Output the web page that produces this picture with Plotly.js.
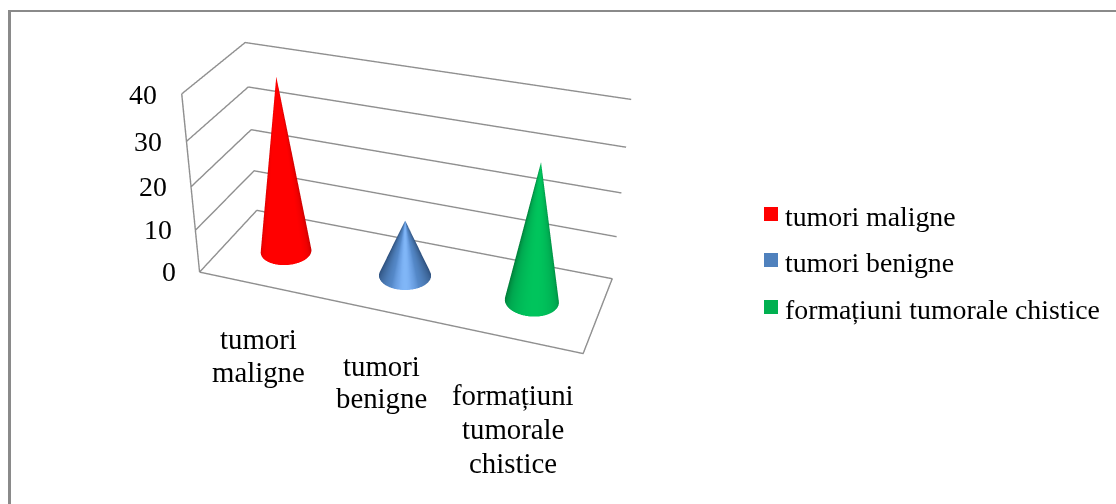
<!DOCTYPE html>
<html><head><meta charset="utf-8">
<script src="https://cdn.plot.ly/plotly-3.0.1.min.js"></script>
<style>html,body{margin:0;padding:0;background:#fff;width:1116px;height:504px;overflow:hidden}
#chart{position:absolute;left:0;top:-290px;width:1116px;height:1004px}</style>
</head><body><div id="chart"></div>
<script>
const categories = ["tumori maligne", "tumori benigne", "formațiuni tumorale chistice"];
const values = [40, 13, 31];
const colors = ["#ff0000", "#4f81bd", "#00b050"];
const valueTicks = [0, 10, 20, 30, 40];
const categoryLines = [["tumori","maligne"],["tumori","benigne"],["formațiuni","tumorale","chistice"]];

const W = 1116, H = 1004, TOP = -290;
const px = x => x / W, py = y => 1 - (y - TOP) / H;
const GRID = "#8f8f8f", FONT = "Liberation Serif";
const shades = [
  [[0,"#cc0000"],[0.4,"#f00000"],[0.7,"#ff0000"],[1,"#ff0000"]],
  [[0,"#2f5280"],[0.5,"#4470a6"],[0.85,"#5589c9"],[0.97,"#72a7ea"],[1,"#80b6f7"]],
  [[0,"#00803a"],[0.5,"#00a850"],[0.85,"#00bb58"],[1,"#00c45c"]]
];
const radius = 0.2;
const viewAngle = Math.atan2(-0.808, 0.2961);

function cone(i) {
  const xs=[], ys=[], zs=[], cs=[], n=96, m=24;
  for (let a=0;a<=m;a++) {
    const s=a/m, rx=[], ry=[], rz=[], rc=[];
    for (let b=0;b<=n;b++) {
      const t=2*Math.PI*b/n;
      rx.push(i+0.5+radius*(1-s)*Math.cos(t));
      ry.push(0.5+radius*(1-s)*Math.sin(t));
      rz.push(values[i]*s);
      rc.push(Math.max(0,Math.cos(t-viewAngle)));
    }
    xs.push(rx); ys.push(ry); zs.push(rz); cs.push(rc);
  }
  return {type:"surface", x:xs, y:ys, z:zs, surfacecolor:cs, cmin:0, cmax:1,
    colorscale:shades[i], showscale:false, hoverinfo:"skip",
    contours:{x:{show:false},y:{show:false},z:{show:false}},
    lighting:{ambient:1,diffuse:0,specular:0,roughness:1,fresnel:0}, name:categories[i]};
}
function line(x,y,z){
  return {type:"scatter3d",mode:"lines",x,y,z,line:{color:GRID,width:2.8},hoverinfo:"skip",showlegend:false};
}
const traces=[];
const topValue = valueTicks[valueTicks.length-1];
valueTicks.forEach(v=>traces.push(line([0,0,3],[0,1,1],[v,v,v])));
traces.push(line([0,3,3,0],[0,0,1,1],[0,0,0,0]));
traces.push(line([0,0],[0,0],[0,topValue]));
categories.forEach((c,i)=>traces.push(cone(i)));

const ann=[];
const txt=(t,x,y,anchor,size)=>ann.push({text:t,xref:"paper",yref:"paper",x:px(x),y:py(y),xanchor:anchor,yanchor:"middle",
  showarrow:false,font:{family:FONT,size:size,color:"#000"},borderpad:0,borderwidth:0});
const tickPos=[[176,271],[172,229],[167,186],[162,141],[157,94]];
valueTicks.forEach((v,i)=>txt(String(v),tickPos[i][0],tickPos[i][1],"right",27.8));
const catPos=[[258.5,339,33],[381.7,366,32],[513,395,34]];
categoryLines.forEach((ls,i)=>ls.forEach((l,j)=>txt(l,catPos[i][0],catPos[i][1]+j*catPos[i][2],"center",28.8)));
const legY=[216,262,309];
const shapes=[
 {type:"line",xref:"paper",yref:"paper",x0:px(9.5),x1:px(9.5),y0:py(10),y1:py(504),line:{color:"#8a8a8a",width:3}},
 {type:"line",xref:"paper",yref:"paper",x0:px(8),x1:px(1116),y0:py(11),y1:py(11),line:{color:"#8a8a8a",width:2}}
];
categories.forEach((c,i)=>{
  txt(c,785,legY[i],"left",27.8);
  shapes.push({type:"rect",xref:"paper",yref:"paper",x0:px(764),x1:px(778),y0:py(legY[i]-9),y1:py(legY[i]+5),
    fillcolor:colors[i],line:{width:0}});
});
const hidden=r=>({visible:false,range:r,autorange:false,showgrid:false,zeroline:false,showline:false,showticklabels:false,showspikes:false,showbackground:false,title:{text:""}});
Plotly.newPlot("chart",traces,{
  width:W,height:H,margin:{l:0,r:0,t:0,b:0},paper_bgcolor:"#fff",showlegend:false,
  scene:{domain:{x:[0,800/W],y:[0,1]},bgcolor:"#fff",
    xaxis:hidden([0,3]),yaxis:hidden([0,1]),zaxis:hidden([0,topValue]),
    aspectmode:"manual",aspectratio:{x:0.9633,y:0.3216,z:0.483},
    camera:{projection:{type:"perspective"},eye:{x:0.8458,y:-2.3439,z:1.4034},center:{x:-0.0425,y:0.0801,z:-0.1134},up:{x:0,y:0,z:1}}},
  annotations:ann,shapes:shapes
},{displayModeBar:false});
</script></body></html>
